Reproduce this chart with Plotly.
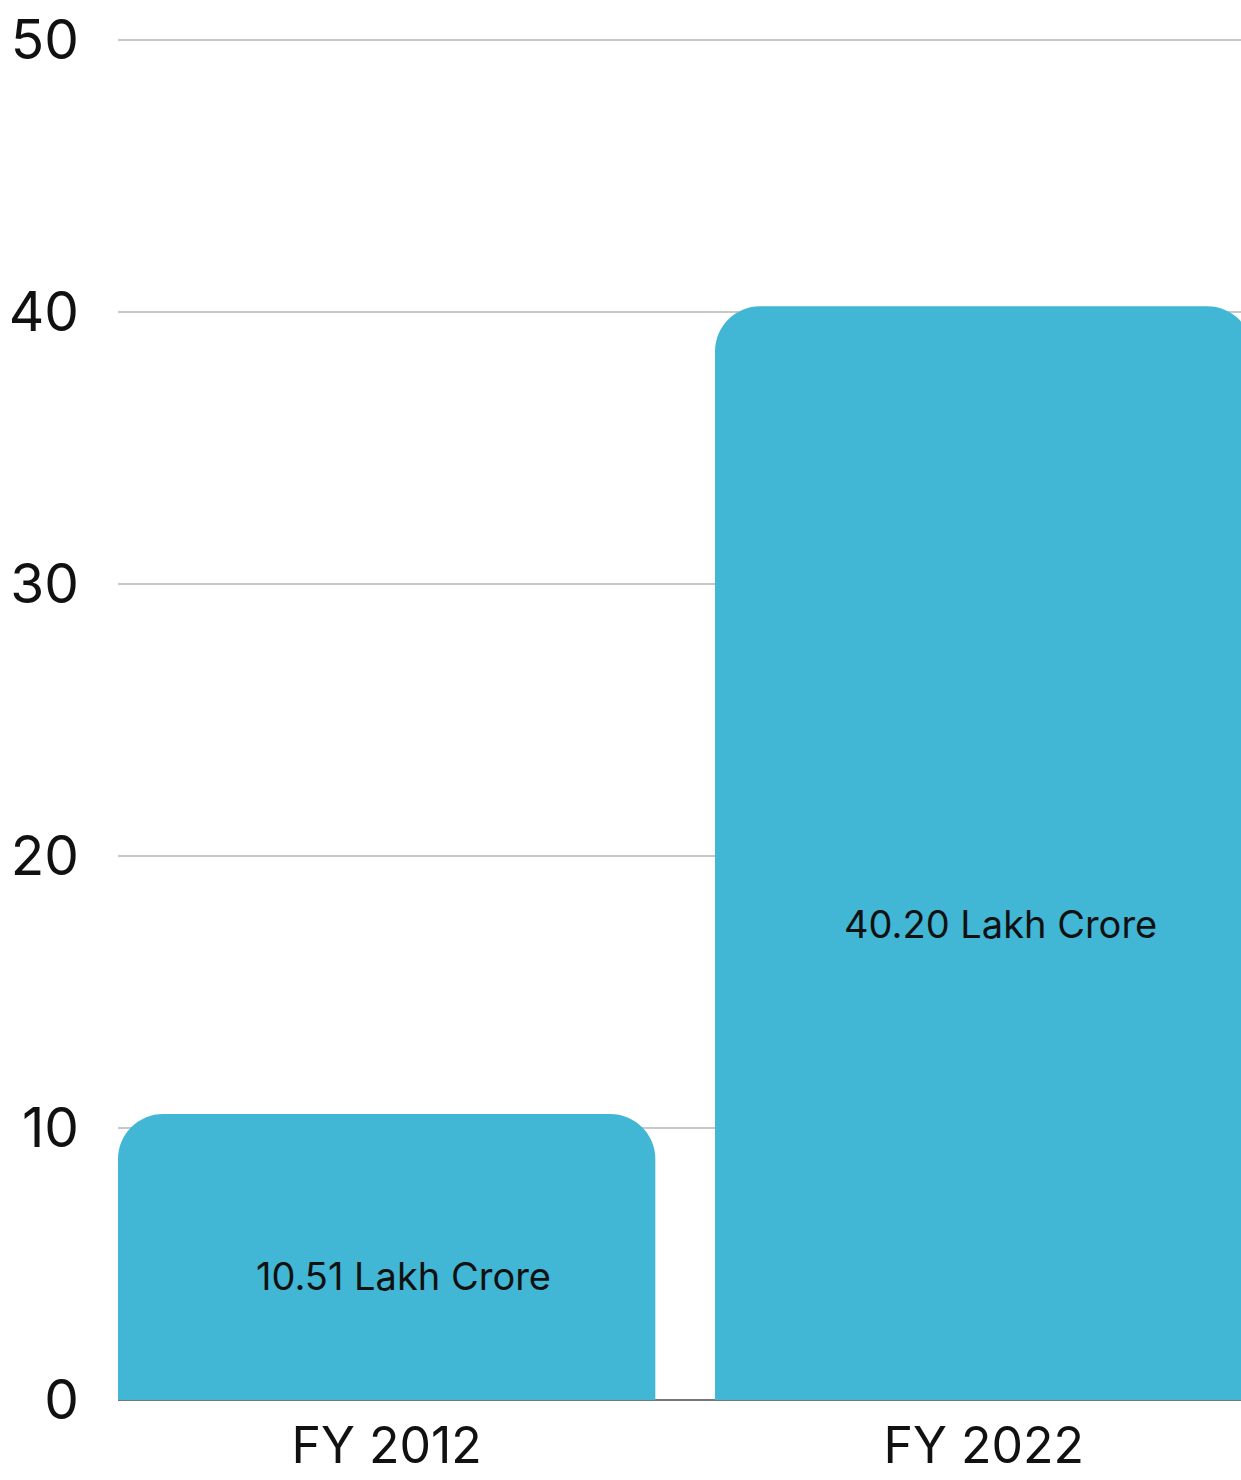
import plotly.graph_objects as go

categories = ["FY 2012", "FY 2022"]
values = [10.51, 40.20]
value_labels = ["10.51 Lakh Crore", "40.20 Lakh Crore"]
y_ticks = [0, 10, 20, 30, 40, 50]

BAR_COLOR = "#42B6D5"
FONT = "Inter"

fig = go.Figure()
fig.add_trace(go.Bar(
    x=categories,
    y=values,
    marker=dict(color=BAR_COLOR, cornerradius=45, line=dict(width=0)),
    width=0.9,
    hoverinfo="skip",
))

for cat, v, lab in zip(categories, values, value_labels):
    fig.add_annotation(
        x=cat, y=v * 0.435, text=lab, showarrow=False,
        xshift=17,
        font=dict(family=FONT, size=38, color="#111111"),
    )

fig.update_layout(
    width=1241, height=1480,
    margin=dict(l=118, r=0, t=37, b=80, autoexpand=False),
    paper_bgcolor="white", plot_bgcolor="white",
    showlegend=False,
    font=dict(family=FONT, color="#111111"),
)
fig.update_xaxes(
    type="category",
    range=[-0.45, 1.431],
    automargin=False,
    showgrid=False,
    showline=False,
    zeroline=False,
    ticks="",
    tickfont=dict(family=FONT, size=50, color="#111111"),
    ticklabelstandoff=12,
)
fig.update_yaxes(
    range=[0, 50.1],
    tickvals=y_ticks,
    automargin=False,
    showgrid=True,
    gridcolor="#c8c8c8",
    gridwidth=1.5,
    zeroline=True,
    zerolinecolor="#777777",
    zerolinewidth=2,
    showline=False,
    ticks="",
    tickfont=dict(family=FONT, size=55, color="#111111"),
    ticklabelstandoff=38,
)

fig.write_html(
    "out.html",
    config={"displayModeBar": False},
    post_script="document.documentElement.style.overflow='hidden';"
                "document.body.style.margin='0';"
                "document.body.style.overflow='hidden';",
)
